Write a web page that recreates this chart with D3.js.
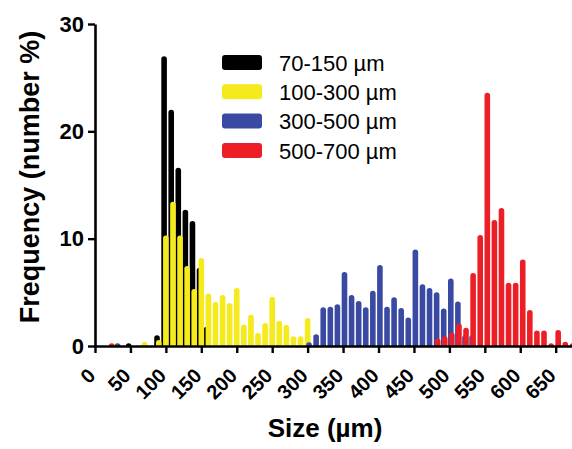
<!DOCTYPE html>
<html>
<head>
<meta charset="utf-8">
<script src="https://cdn.jsdelivr.net/npm/d3@7"></script>
<style>
  body { margin: 0; background: #fff; }
  svg { display: block; font-family: "Liberation Sans", Arial, sans-serif; }
</style>
</head>
<body>
<svg id="chart"></svg>
<script>
// legend / series names
const seriesNames = ["70-150 \u00b5m", "100-300 \u00b5m", "300-500 \u00b5m", "500-700 \u00b5m"];
const seriesColors = ["#000000", "#f4ea1c", "#3a4aa2", "#ec1f26"];

// bin centres (µm) and frequencies (number %) per series
const blackSize = [47.5, 87.5, 97.5, 107.5, 117.5, 127.5, 137.5, 147.5, 157.5];
const blackFreq = [0.15, 1.0, 27.0, 22.0, 16.6, 12.7, 11.65, 7.3, 1.8];

const yellowSize = [30, 70, 90, 100, 110, 120, 130, 140, 150, 160, 170, 180, 190, 200, 210, 220, 230, 240, 250, 260, 270, 280, 290, 300];
const yellowFreq = [0.15, 0.4, 0.55, 10.3, 13.45, 10.3, 7.45, 5.3, 8.2, 4.9, 4.1, 4.75, 4.0, 5.4, 2.0, 2.9, 1.2, 2.15, 4.6, 2.35, 1.95, 0.9, 0.9, 2.6];

const blueSize = [32, 302, 312, 322, 332, 342, 352, 362, 372, 382, 392, 402, 412, 422, 432, 442, 452, 462, 472, 482, 492, 502, 512, 522, 532];
const blueFreq = [0.15, 0.35, 1.1, 3.6, 3.65, 3.9, 6.9, 4.75, 4.2, 3.6, 5.15, 7.55, 3.65, 4.55, 3.55, 2.65, 9.0, 5.75, 5.4, 5.0, 3.5, 6.3, 4.15, 1.0, 1.0];

const redSize = [23.5, 483.5, 493.5, 503.5, 513.5, 523.5, 533.5, 543.5, 553.5, 563.5, 573.5, 583.5, 593.5, 603.5, 613.5, 623.5, 633.5, 643.5, 653.5, 663.5, 673.5];
const redFreq = [0.15, 0.7, 0.9, 1.25, 2.1, 1.7, 6.8, 10.35, 23.6, 11.75, 12.85, 5.9, 5.9, 8.05, 3.35, 1.45, 1.45, 0.25, 1.5, 0.4, 0.2];

const xTicks = d3.range(0, 651, 50);
const yTicks = [0, 10, 20, 30];

const width = 572, height = 449;
const svg = d3.select("#chart").attr("width", width).attr("height", height);

const x = d3.scaleLinear().domain([0, 673]).range([95, 572]);
const y = d3.scaleLinear().domain([0, 30]).range([346, 24]);

const barW = 5.6;
function barPath(d) {
  const cx = x(d.size), y0 = y(0), yt = y(d.freq), r = barW / 2;
  const top = Math.min(yt + r, y0);
  return `M${cx - r},${y0}L${cx - r},${top}A${r},${r} 0 0 1 ${cx + r},${top}L${cx + r},${y0}Z`;
}

const plot = svg.append("g");
[[blackSize, blackFreq], [yellowSize, yellowFreq], [blueSize, blueFreq], [redSize, redFreq]]
  .forEach(([sizes, freqs], i) => {
    plot.append("g")
      .attr("fill", seriesColors[i])
    .selectAll("path")
    .data(sizes.map((s, j) => ({size: s, freq: freqs[j]})))
    .join("path")
      .attr("d", barPath);
  });

// x axis
svg.append("g")
    .attr("transform", `translate(0,${y(0)})`)
    .call(d3.axisBottom(x).tickValues(xTicks).tickSize(7).tickSizeOuter(0).tickFormat(d3.format("d")))
    .call(g => g.select(".domain").attr("stroke-width", 2.6))
    .call(g => g.selectAll(".tick line").attr("stroke-width", 2.4))
    .call(g => g.selectAll(".tick text")
        .attr("font-size", 20).attr("font-weight", "bold").attr("fill", "#000")
        .attr("text-anchor", "end")
        .attr("x", 0).attr("y", 0).attr("dy", 0)
        .attr("transform", "translate(1,31) rotate(-45)"));

// y axis
svg.append("g")
    .attr("transform", `translate(${x(0)},0)`)
    .call(d3.axisLeft(y).tickValues(yTicks).tickSize(7).tickPadding(4).tickSizeOuter(0))
    .call(g => g.select(".domain").attr("stroke-width", 2.6))
    .call(g => g.selectAll(".tick line").attr("stroke-width", 2.4))
    .call(g => g.selectAll(".tick text")
        .attr("font-size", 22).attr("font-weight", "bold").attr("fill", "#000"));

// titles
svg.append("text")
    .attr("transform", "translate(39,177) rotate(-90)")
    .attr("text-anchor", "middle")
    .attr("font-size", 27).attr("font-weight", "bold")
    .text("Frequency (number %)");

svg.append("text")
    .attr("x", 325).attr("y", 437)
    .attr("text-anchor", "middle")
    .attr("font-size", 26).attr("font-weight", "bold")
    .text("Size (\u00b5m)");

// legend
const legend = svg.append("g").attr("transform", "translate(222,55)");
const row = legend.selectAll("g")
  .data(seriesNames)
  .join("g")
    .attr("transform", (d, i) => `translate(0,${i * 29.3})`);
row.append("rect")
    .attr("width", 40).attr("height", 15).attr("rx", 3)
    .attr("fill", (d, i) => seriesColors[i]);
row.append("text")
    .attr("x", 57).attr("y", 8).attr("dy", "0.35em")
    .attr("font-size", 22)
    .text(d => d);
</script>
</body>
</html>
